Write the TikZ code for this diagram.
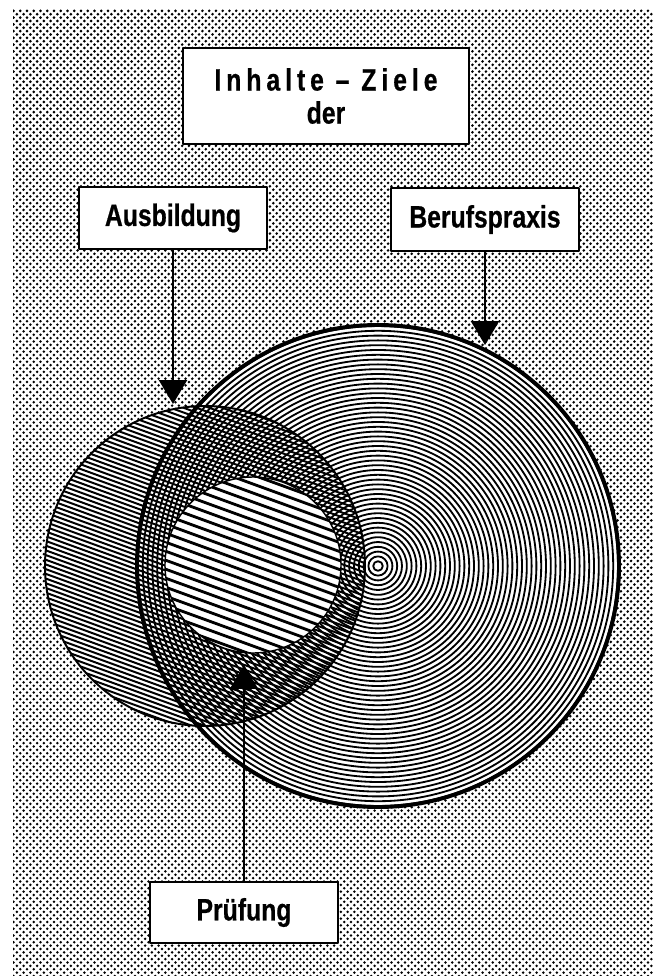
\documentclass[tikz,border=0pt]{standalone}
\usepackage{fontspec}
\setmainfont{Liberation Sans}[FakeStretch=0.8,FakeBold=0.6]
\usetikzlibrary{arrows.meta,patterns}

\pgfdeclarepatternformonly{rasterdots}{\pgfqpoint{-1.5pt}{-1.5pt}}{\pgfqpoint{4pt}{4pt}}{\pgfqpoint{4.8pt}{4.8pt}}{%
  \pgfpathcircle{\pgfqpoint{0pt}{0pt}}{1.05pt}%
  \pgfpathcircle{\pgfqpoint{2.4pt}{2.4pt}}{1.05pt}%
  \pgfusepath{fill}}

\tikzset{
  labelbox/.style={draw,fill=white,line width=1.4pt,inner sep=0pt,
    font=\bfseries\fontsize{22}{23.5}\selectfont},
  pointer/.style={line width=1.2pt,-{Triangle[width=20pt,length=17pt]}},
  ring/.style={line width=1.3pt},
  hatch/.style={line width=1.4pt},
}

\begin{document}
\begin{tikzpicture}[x=0.025cm,y=-0.025cm,line cap=round,line join=round]
  \useasboundingbox (0,0) rectangle (661,976);
  \fill[white] (0,0) rectangle (661,976);
  \fill[pattern=rasterdots] (13,9) rectangle (653,976);

  \coordinate (B) at (378,566);
  \coordinate (A) at (205,566);
  \coordinate (P) at (253,565);

  % Ausbildung (white ground)
  \fill[white] (A) circle (160);
  % Berufspraxis: concentric rings
  \fill[white] (B) circle (241);
  \begin{scope}
    \clip (B) circle (241);
    \foreach \i in {1,...,50}
      \draw[ring] (B) circle (\i*4.8);
  \end{scope}
  % Ausbildung: diagonal hatching
  \begin{scope}
    \clip (A) circle (160);
    \begin{scope}[shift={(205,566)}]
      \foreach \k in {-40,...,40}
        \draw[hatch] (-175,\k*4.7-63.7) -- (175,\k*4.7+63.7);
    \end{scope}
  \end{scope}
  % Pruefung: wide hatching
  \fill[white] (P) circle (88);
  \begin{scope}
    \clip (P) circle (88);
    \begin{scope}[shift={(253,565)}]
      \foreach \k in {-13,...,13}
        \draw[line width=2pt] (-100,\k*9-36.4) -- (100,\k*9+36.4);
    \end{scope}
  \end{scope}
  \draw[line width=1pt] (P) circle (88);
  \draw[line width=1.4pt] (A) circle (160);
  \draw[line width=2.8pt] (B) circle (241);

  % boxes
  \node[labelbox,minimum width=7.15cm,minimum height=2.4cm,align=center] (ziele) at (326,96)
    {{\addfontfeatures{LetterSpace=16}Inhalte – Ziele}\\der};
  \node[labelbox,minimum width=4.7cm,minimum height=1.55cm] (ausb) at (173,218) {Ausbildung};
  \node[labelbox,minimum width=4.7cm,minimum height=1.575cm] (beruf) at (485,219.5) {Berufspraxis};
  \node[labelbox,minimum width=4.675cm,minimum height=1.525cm] (pruef) at (244,912.5) {Prüfung};

  % arrows
  \coordinate (ausbtip) at (173,404);
  \coordinate (beruftip) at (485,345);
  \coordinate (prueftip) at (244,665);
  \draw[pointer] (ausb.south) -- (ausbtip);
  \draw[pointer] (beruf.south) -- (beruftip);
  \draw[pointer] (pruef.north) -- (prueftip);
\end{tikzpicture}
\end{document}
